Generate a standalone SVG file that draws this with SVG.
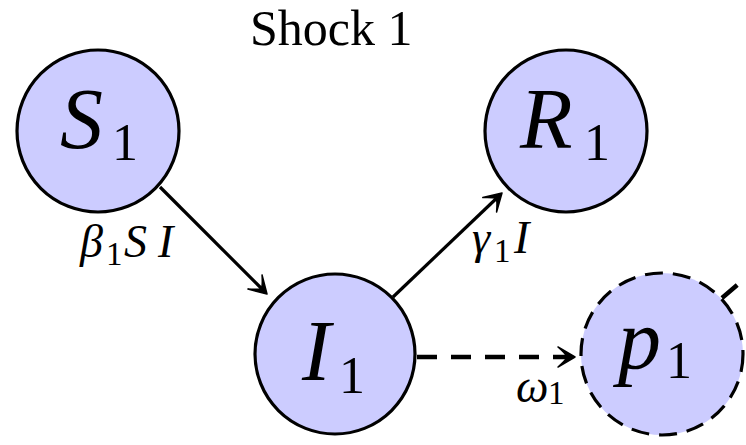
<svg xmlns="http://www.w3.org/2000/svg" width="746" height="445" viewBox="0 0 746 445">
  <text x="250" y="45" font-family="'Liberation Serif'" font-size="50" fill="#000">Shock 1</text>

  <g id="connectors" stroke="#000" stroke-width="3.2" fill="none">
    <line x1="160" y1="187" x2="265" y2="292"/>
    <path transform="translate(267,294) rotate(45)" d="M0,0 L-17,-10 Q-9,-3 -8,0 Q-9,3 -17,10 Z" fill="#000" stroke-width="1.5" stroke-linejoin="round"/>
    <line x1="393" y1="297" x2="500" y2="195"/>
    <path transform="translate(502,193) rotate(-43.6)" d="M0,0 L-17,-10 Q-9,-3 -8,0 Q-9,3 -17,10 Z" fill="#000" stroke-width="1.5" stroke-linejoin="round"/>
    <line x1="417" y1="357" x2="572" y2="357" stroke-width="4.5" stroke-dasharray="20 14"/>
    <path transform="translate(575,357)" d="M0,0 L-17,-10 Q-9,-3 -8,0 Q-9,3 -17,10 Z" fill="#000" stroke-width="1.5" stroke-linejoin="round"/>
    <line x1="722" y1="298" x2="770" y2="257" stroke-width="4.5" stroke-dasharray="20 14"/>
  </g>

  <g id="labels" fill="#000">
    <text font-family="'Liberation Serif'" font-size="46"><tspan font-style="italic" x="80" y="257">β</tspan><tspan x="106" y="265" font-size="33">1</tspan><tspan font-style="italic" x="124" y="257">S</tspan><tspan font-style="italic" x="158" y="257">I</tspan></text>
    <text font-family="'Liberation Serif'" font-size="46"><tspan font-style="italic" x="472" y="253">γ</tspan><tspan x="494" y="262" font-size="33">1</tspan><tspan font-style="italic" x="514" y="253">I</tspan></text>
    <text font-family="'Liberation Serif'" font-size="46"><tspan font-style="italic" x="516" y="402">ω</tspan><tspan x="548" y="404" font-size="33">1</tspan></text>
  </g>

  <g id="S1">
    <circle cx="98" cy="131" r="81" fill="#ccccff" stroke="#000" stroke-width="3.2"/>
    <text font-family="'Liberation Serif'" font-size="86" fill="#000"><tspan font-style="italic" x="60" y="148">S</tspan><tspan x="112" y="160" font-size="52">1</tspan></text>
  </g>

  <g id="R1">
    <circle cx="566" cy="131" r="81" fill="#ccccff" stroke="#000" stroke-width="3.2"/>
    <text font-family="'Liberation Serif'" font-size="86" fill="#000"><tspan font-style="italic" x="520" y="148">R</tspan><tspan x="584" y="160" font-size="52">1</tspan></text>
  </g>

  <g id="I1">
    <circle cx="335" cy="354" r="80" fill="#ccccff" stroke="#000" stroke-width="3.2"/>
    <text font-family="'Liberation Serif'" font-size="86" fill="#000"><tspan font-style="italic" x="302" y="380">I</tspan><tspan x="339" y="393" font-size="52">1</tspan></text>
  </g>

  <g id="p1">
    <circle cx="662" cy="354" r="81" fill="#ccccff" stroke="#000" stroke-width="3.2" stroke-dasharray="18 10"/>
    <text font-family="'Liberation Serif'" font-size="86" fill="#000"><tspan font-style="italic" x="618" y="368">p</tspan><tspan x="666" y="378" font-size="52">1</tspan></text>
  </g>
</svg>
